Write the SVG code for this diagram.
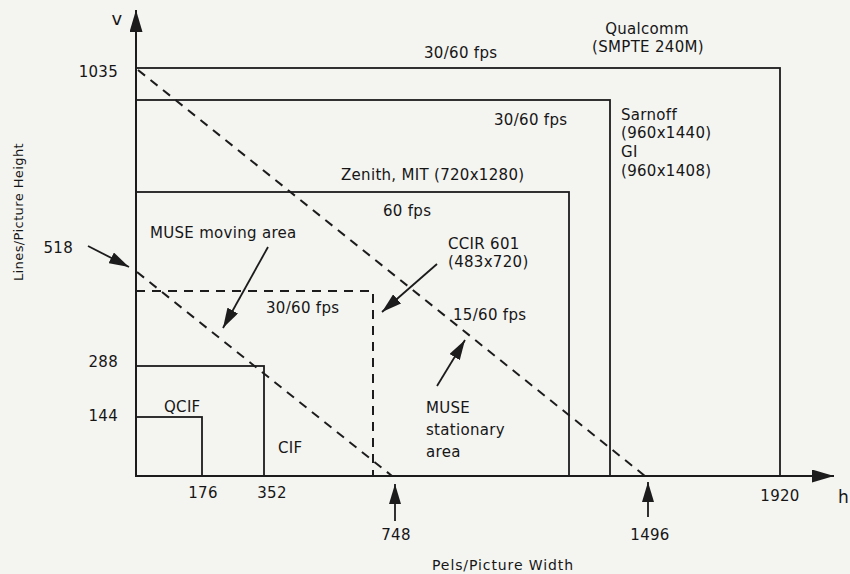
<svg xmlns="http://www.w3.org/2000/svg" width="850" height="574" viewBox="0 0 850 574">
<defs>
<style>
text{font-family:"DejaVu Sans","Liberation Sans",sans-serif;font-size:15px;fill:#161616;letter-spacing:0.3px}
.sm{font-size:13px;letter-spacing:0.4px}
.box{fill:none;stroke:#1c1c1c;stroke-width:1.8}
.dash{fill:none;stroke:#1c1c1c;stroke-width:2;stroke-dasharray:9 7}
.arr{fill:none;stroke:#1c1c1c;stroke-width:1.8}
.axis{fill:none;stroke:#1c1c1c;stroke-width:2}
.e{text-anchor:end}
.m{text-anchor:middle}
</style>
<marker id="head" viewBox="0 0 20 12" refX="20" refY="6" markerWidth="20" markerHeight="12" markerUnits="userSpaceOnUse" orient="auto">
<path d="M0,0 L20,6 L0,12 z" fill="#1c1c1c"/>
</marker>
<marker id="axhead" viewBox="0 0 22 13" refX="22" refY="6.5" markerWidth="22" markerHeight="13" markerUnits="userSpaceOnUse" orient="auto">
<path d="M0,0 L22,6.5 L0,13 z" fill="#1c1c1c"/>
</marker>
</defs>
<rect width="850" height="574" fill="#f4f4f1"/>

<g id="axes">
<line class="axis" x1="136" y1="477" x2="136" y2="10" marker-end="url(#axhead)"/>
<line class="axis" x1="135" y1="476" x2="834" y2="476" marker-end="url(#axhead)"/>
<text x="117" y="25" class="m" style="font-size:18px">v</text>
<text x="838" y="503" style="font-size:17px">h</text>
<text class="sm m" transform="translate(23,212) rotate(-90)">Lines/Picture Height</text>
<text class="m" x="503" y="570" style="font-size:14px;letter-spacing:0.9px">Pels/Picture Width</text>
<text class="e" x="118" y="77">1035</text>
<text class="e" x="73" y="253">518</text>
<text class="e" x="118" y="367">288</text>
<text class="e" x="118" y="421">144</text>
<text class="m" x="203" y="498">176</text>
<text class="m" x="272" y="498">352</text>
<text class="m" x="396" y="540">748</text>
<text class="m" x="650" y="540">1496</text>
<text class="m" x="780" y="501">1920</text>
</g>

<g id="qualcomm">
<rect class="box" x="136" y="68" width="644" height="408"/>
<text class="m" x="647" y="34">Qualcomm</text>
<text class="m" x="648" y="52">(SMPTE 240M)</text>
<text x="424" y="58">30/60 fps</text>
</g>

<g id="sarnoff">
<rect class="box" x="136" y="100" width="474" height="376"/>
<text x="621" y="120">Sarnoff</text>
<text x="621" y="138">(960x1440)</text>
<text x="621" y="157">GI</text>
<text x="621" y="176">(960x1408)</text>
<text x="494" y="125">30/60 fps</text>
</g>

<g id="zenith">
<rect class="box" x="136" y="192" width="433" height="284"/>
<text x="341" y="180">Zenith, MIT (720x1280)</text>
<text x="383" y="216">60 fps</text>
</g>

<g id="ccir601">
<path class="dash" d="M136,291 H373 V476"/>
<text x="448" y="249">CCIR 601</text>
<text x="448" y="267">(483x720)</text>
<text x="266" y="313">30/60 fps</text>
</g>

<g id="cif">
<rect class="box" x="136" y="366" width="128" height="110"/>
<text x="278" y="453">CIF</text>
</g>

<g id="qcif">
<rect class="box" x="136" y="417" width="66" height="59"/>
<text x="164" y="412">QCIF</text>
</g>

<g id="muse-moving">
<text x="150" y="238">MUSE moving area</text>
</g>

<g id="muse-stationary">
<text x="453" y="320">15/60 fps</text>
<text x="426" y="413">MUSE</text>
<text x="426" y="435">stationary</text>
<text x="426" y="457">area</text>
</g>

<g id="connectors">
<line class="dash" x1="138" y1="70" x2="645" y2="476"/>
<line class="dash" x1="137" y1="272" x2="392" y2="476"/>
<line class="arr" x1="88" y1="246" x2="129" y2="267" marker-end="url(#head)"/>
<line class="arr" x1="268" y1="247" x2="223" y2="328" marker-end="url(#head)"/>
<line class="arr" x1="437" y1="264" x2="382" y2="312" marker-end="url(#head)"/>
<line class="arr" x1="437" y1="386" x2="465" y2="340" marker-end="url(#head)"/>
<line class="arr" x1="395" y1="521" x2="395" y2="484" marker-end="url(#head)"/>
<line class="arr" x1="648" y1="517" x2="648" y2="482" marker-end="url(#head)"/>
</g>
</svg>
